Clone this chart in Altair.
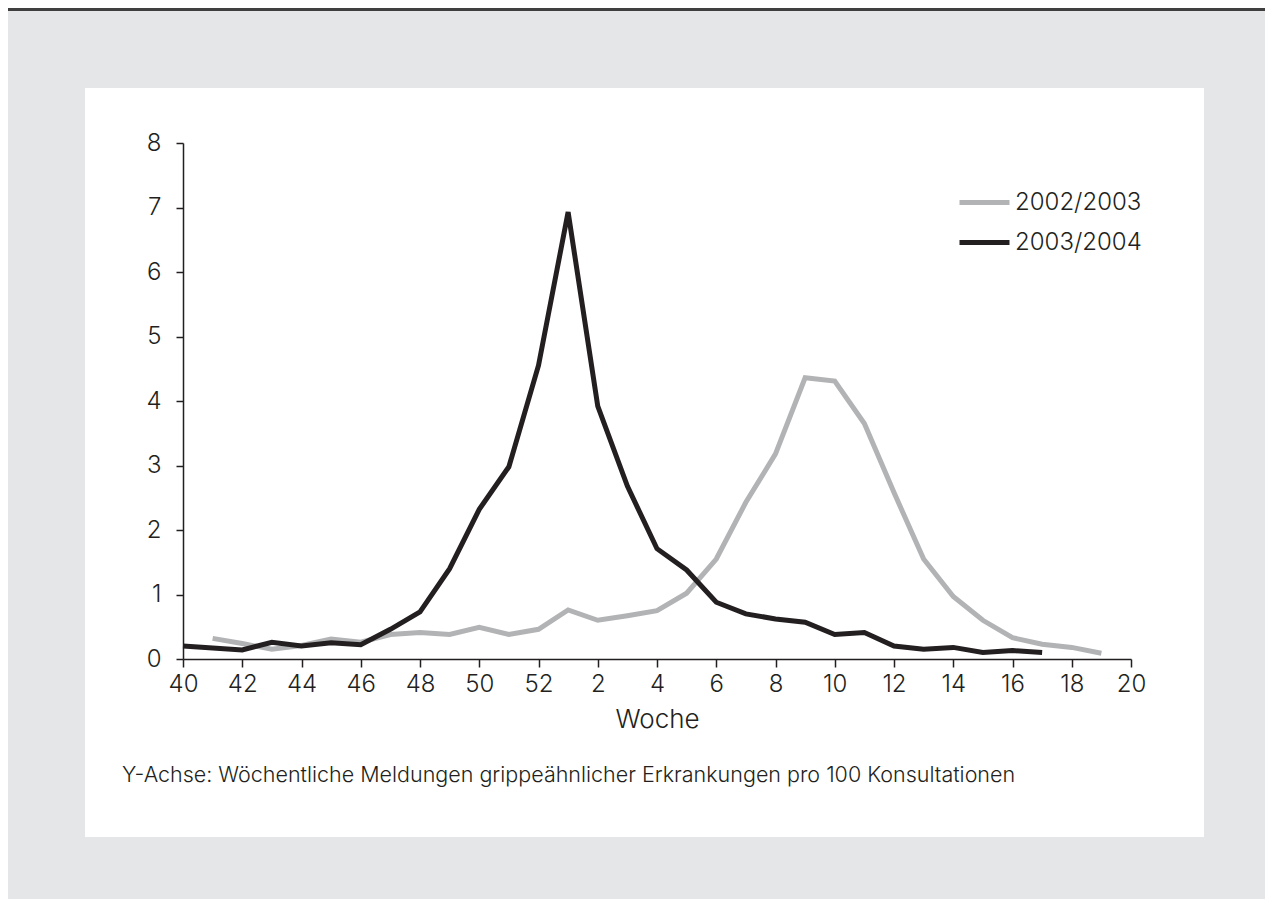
import altair as alt
import pandas as pd

# ---- data ----
week_labels = [str(w) for w in range(40, 53)] + [str(w) for w in range(1, 21)]
tick_weeks = ["40", "42", "44", "46", "48", "50", "52", "2", "4", "6", "8",
              "10", "12", "14", "16", "18", "20"]

season_a = "2002/2003"
season_b = "2003/2004"

# 2002/2003 starts at week 41, ends at week 19
values_a = [None, 0.32, 0.24, 0.15, 0.21, 0.31, 0.26, 0.38, 0.41, 0.38, 0.49,
            0.38, 0.46, 0.76, 0.60, 0.67, 0.75, 1.02, 1.55, 2.43, 3.18,
            4.36, 4.31, 3.65, 2.58, 1.55, 0.97, 0.60, 0.33, 0.23, 0.18, 0.09, None]
# 2003/2004 starts at week 40, ends at week 17
values_b = [0.20, 0.17, 0.14, 0.26, 0.20, 0.25, 0.22, 0.46, 0.73, 1.40, 2.32,
            2.98, 4.55, 6.93, 3.92, 2.68, 1.71, 1.38, 0.88, 0.70, 0.62,
            0.57, 0.38, 0.41, 0.20, 0.15, 0.18, 0.10, 0.13, 0.10, None, None, None]

y_ticks = [0, 1, 2, 3, 4, 5, 6, 7, 8]
footnote = "Y-Achse: Wöchentliche Meldungen grippeähnlicher Erkrankungen pro 100 Konsultationen"

rows = []
for season, vals in [(season_a, values_a), (season_b, values_b)]:
    for wk, v in zip(week_labels, vals):
        if v is not None:
            rows.append({"week": wk, "value": v, "season": season})
df = pd.DataFrame(rows)

FONT = "Inter"
INK = "#231F20"

W, H = 948, 516
PAD_L, PAD_T = 175, 135
TOTAL_W, TOTAL_H = 1257, 891

one = pd.DataFrame({"t": [footnote]})

panel = alt.Chart(one).mark_rect(color="white").encode(
    x=alt.value(85 - 8 - PAD_L), x2=alt.value(1204 - 8 - PAD_L),
    y=alt.value(88 - 8 - PAD_T), y2=alt.value(837 - 8 - PAD_T),
)

topline = alt.Chart(one).mark_rule(color="#3f3f3f", strokeWidth=3).encode(
    x=alt.value(-PAD_L), x2=alt.value(TOTAL_W - PAD_L),
    y=alt.value(9.5 - 8 - PAD_T),
)

lines = alt.Chart(df).mark_line(strokeWidth=5, strokeJoin="miter").encode(
    x=alt.X("week:O", sort=week_labels,
            scale=alt.Scale(type="point", domain=week_labels, padding=0),
            axis=alt.Axis(values=tick_weeks, title="Woche", labelAngle=0,
                          labelFont=FONT, labelFontSize=24, labelFontWeight=300,
                          labelColor=INK, labelPadding=5,
                          titleFont=FONT, titleFontSize=26, titleFontWeight=300,
                          titleColor=INK, titlePadding=10,
                          domainColor=INK, domainWidth=1.5,
                          tickColor=INK, tickWidth=1.5, tickSize=8, grid=False,
                          zindex=1)),
    y=alt.Y("value:Q", scale=alt.Scale(domain=[0, 8], nice=False),
            axis=alt.Axis(values=y_ticks, title=None, format="d",
                          labelFont=FONT, labelFontSize=24, labelFontWeight=300,
                          labelColor=INK, labelPadding=15,
                          domainColor=INK, domainWidth=1.5,
                          tickColor=INK, tickWidth=1.5, tickSize=7, grid=False,
                          zindex=1)),
    color=alt.Color("season:N",
                    scale=alt.Scale(domain=[season_a, season_b],
                                    range=["#B2B3B5", INK]),
                    legend=alt.Legend(orient="none", legendX=957 - 8 - PAD_L,
                                      legendY=175 - 8 - PAD_T, title=None,
                                      symbolType="stroke", symbolSize=2500,
                                      symbolStrokeWidth=5, rowPadding=-17,
                                      labelFont=FONT, labelFontSize=24,
                                      labelFontWeight=300, labelColor=INK,
                                      labelOffset=3, padding=0)),
    detail="season:N",
)

note = alt.Chart(one).mark_text(align="left", baseline="middle", font=FONT,
                                fontSize=21.5, fontWeight=300, color=INK).encode(
    x=alt.value(122 - 8 - PAD_L), y=alt.value(776 - 8 - PAD_T), text="t:N",
)

chart = alt.layer(panel, topline, lines, note).properties(
    width=W, height=H,
    padding={"left": PAD_L, "top": PAD_T,
             "right": TOTAL_W - PAD_L - W, "bottom": TOTAL_H - PAD_T - H},
    autosize=alt.AutoSizeParams(type="none"),
).configure(background="#E5E6E8").configure_view(stroke=None)

chart.save("out.html", embed_options={"renderer": "svg", "actions": False})
